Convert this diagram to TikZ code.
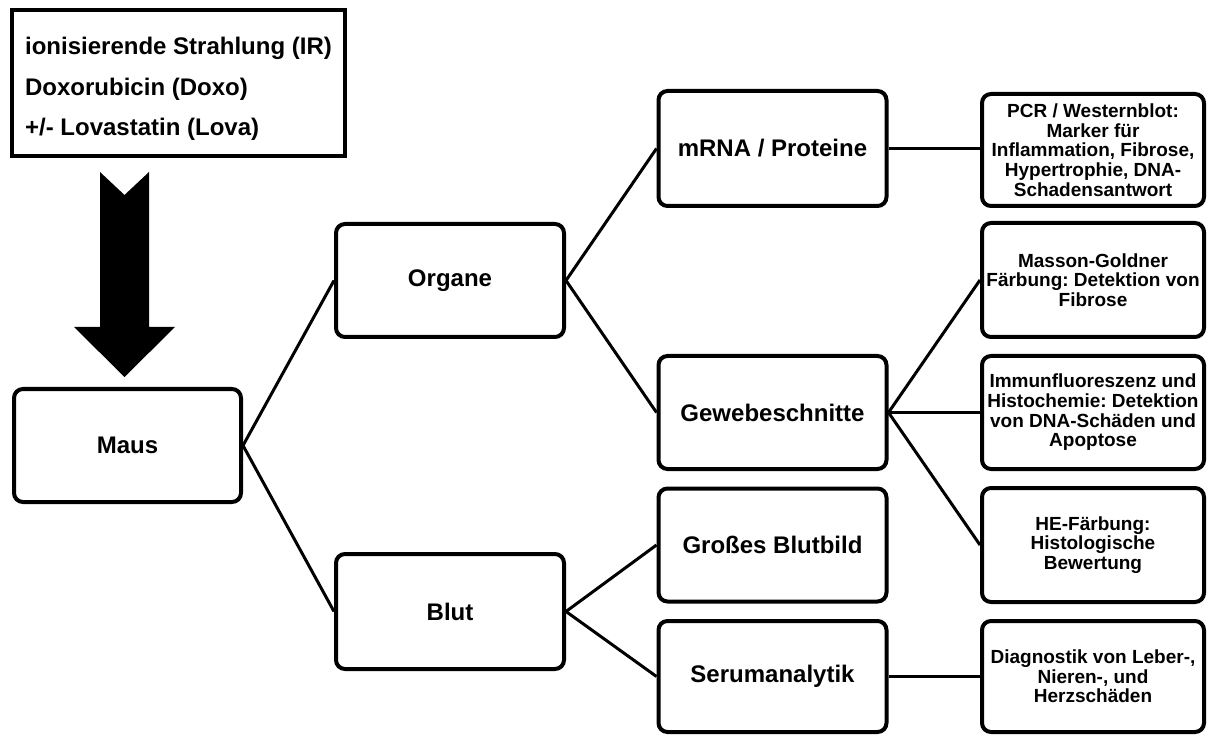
\documentclass[tikz,border=0pt]{standalone}
\usepackage{fontspec}
\setmainfont{Liberation Sans}
\frenchspacing
\begin{document}
\begin{tikzpicture}[x=1pt,y=-1pt,
  rbox/.style={draw=black,line width=4pt,rounded corners=9pt,fill=white,align=center,inner sep=2pt},
  lvl/.style={rbox,minimum width=228pt,minimum height=113pt,font=\fontsize{24}{28}\selectfont\bfseries},
  leaf/.style={rbox,minimum width=222pt,minimum height=112pt,font=\fontsize{19}{19.7}\selectfont\bfseries},
  link/.style={draw=black,line width=3pt}]
\useasboundingbox (0,0) rectangle (1208,735);
% input box
\node[draw=black,line width=4.5pt,minimum width=333pt,minimum height=146pt] (input) at (178.5,83) {};
\node[inner sep=0pt,align=left,font=\fontsize{24}{40.5}\selectfont\bfseries] (inputtext) at (178.5,89)
  {ionisierende Strahlung (IR)\\Doxorubicin (Doxo)\\+/- Lovastatin (Lova)};
% big arrow
\fill[black] (100,172) -- (124.5,195) -- (149,172) -- (149,327) -- (175,327) -- (124.5,377) -- (74,327) -- (100,327) -- cycle;
% nodes
\node[lvl,minimum width=227pt] (maus) at (127.5,445.5) {Maus};
\node[lvl] (organe) at (450,280.5) {Organe};
\node[lvl,minimum height=115pt] (blut) at (450,611.5) {Blut};
\node[lvl,minimum height=115pt] (mrna) at (772.5,148.5) {mRNA / Proteine};
\node[lvl] (gewebe) at (772.5,412.5) {Gewebeschnitte};
\node[lvl] (gross) at (772.5,545) {Großes Blutbild};
\node[lvl,minimum height=111pt] (serum) at (772.5,676.5) {Serumanalytik};
\node[leaf] (pcr) at (1093,150) {PCR / Westernblot:\\Marker für\\Inflammation, Fibrose,\\Hypertrophie, DNA-\\Schadensantwort};
\node[leaf,minimum height=114pt] (masson) at (1093,280) {Masson-Goldner\\Färbung: Detektion von\\Fibrose};
\node[leaf,minimum height=113pt] (immun) at (1093,412.5) {Immunfluoreszenz und\\Histochemie: Detektion\\von DNA-Schäden und\\Apoptose};
\node[leaf,minimum height=114pt] (he) at (1093,545) {HE-Färbung:\\Histologische\\Bewertung};
\node[leaf,minimum height=111pt] (diag) at (1093,676.5) {Diagnostik von Leber-,\\Nieren-, und\\Herzschäden};
% connectors
\draw[link] (maus.east) -- (organe.west);
\draw[link] (maus.east) -- (blut.west);
\draw[link] (organe.east) -- (mrna.west);
\draw[link] (organe.east) -- (gewebe.west);
\draw[link] (blut.east) -- (gross.west);
\draw[link] (blut.east) -- (serum.west);
\draw[link] (mrna.east) -- (pcr.west |- mrna.east);
\draw[link] (gewebe.east) -- (masson.west);
\draw[link] (gewebe.east) -- (immun.west);
\draw[link] (gewebe.east) -- (he.west);
\draw[link] (serum.east) -- (diag.west);
\end{tikzpicture}
\end{document}
